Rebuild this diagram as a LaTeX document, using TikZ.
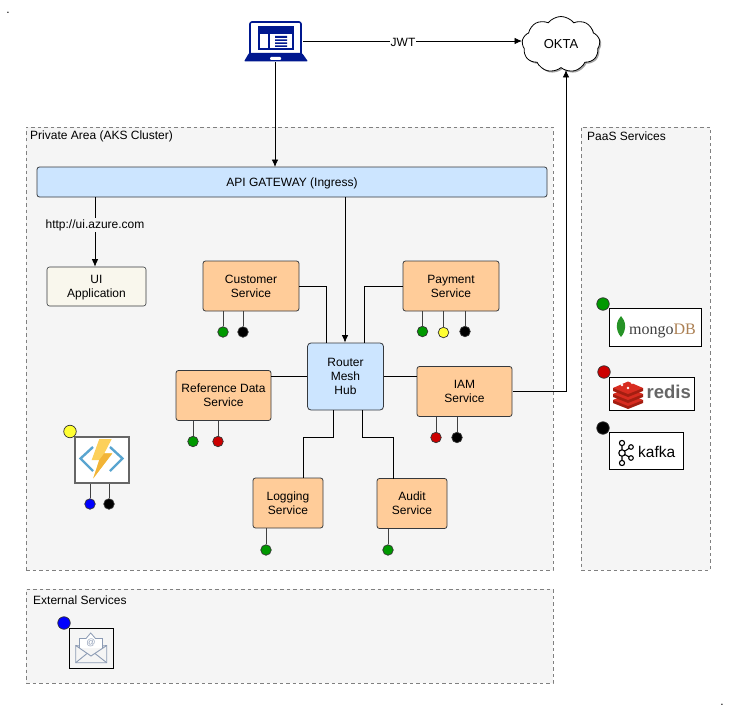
\documentclass[tikz,border=0pt]{standalone}
\usepackage{fontspec}
\setmainfont{Liberation Sans}
\newfontfamily\logoserif{Liberation Serif}
\usetikzlibrary{arrows.meta,shapes.symbols,shadows}

\definecolor{areabg}{HTML}{F5F5F5}
\definecolor{arealine}{HTML}{808080}
\definecolor{svcfill}{HTML}{FFCC99}
\definecolor{hubfill}{HTML}{CCE5FF}
\definecolor{uifill}{HTML}{F9F7ED}
\definecolor{boxline}{HTML}{36393D}
\definecolor{navy}{HTML}{00188F}
\definecolor{dotgreen}{HTML}{009900}
\definecolor{dotred}{HTML}{CC0000}
\definecolor{dotyellow}{HTML}{FFFF33}
\definecolor{dotblue}{HTML}{0000FF}
\definecolor{mailgray}{HTML}{8C9BB4}
\definecolor{boltyellow}{HTML}{FCD05A}
\definecolor{boltdark}{HTML}{F2B437}
\definecolor{chevron}{HTML}{59A5D0}
\definecolor{redisdark}{HTML}{A41E11}
\definecolor{redislight}{HTML}{D82C20}

\tikzset{
  base/.style={font=\fontsize{12}{14}\selectfont, align=center, inner sep=0pt},
  area/.style={draw=arealine, fill=areabg, dash pattern=on 3.5pt off 3pt, line width=0.7pt, inner sep=0pt},
  service/.style={base, draw=boxline, fill=svcfill, rounded corners=2.5pt, line width=0.8pt, text depth=-1pt},
  hub/.style={base, draw=boxline, fill=hubfill, rounded corners=3.5pt, line width=0.8pt, text depth=-2pt},
  logobox/.style={draw=black, fill=white, line width=0.8pt, inner sep=0pt,
    general shadow={shadow xshift=1pt, shadow yshift=-1pt, fill=black!45}},
  dot/.style={circle, draw=black!80, fill=#1, minimum size=10.5pt, inner sep=0pt, line width=0.7pt},
  bigdot/.style={dot=#1, minimum size=12.5pt},
  link/.style={draw, line width=0.8pt},
  arrowlink/.style={link, -{Latex[length=7.5pt,width=6.5pt]}},
  stem/.style={draw=black!75, line width=0.8pt},
  label/.style={base, anchor=west},
  linklabel/.style={base, inner xsep=1pt, inner ysep=1pt},
}

\begin{document}
\begin{tikzpicture}[x=1pt,y=-1pt]
\useasboundingbox (0,0) rectangle (732,717);

% areas
\node[area, minimum width=527pt, minimum height=443pt] (private) at (289.5,348.5) {};
\node[area, minimum width=129pt, minimum height=443pt] (paas) at (645.5,348.5) {};
\node[area, minimum width=527pt, minimum height=94pt] (external) at (289.5,636) {};
\node[label] (privatetxt) at (30,136.5) {Private Area (AKS Cluster)};
\node[label] (paastxt) at (587,136.5) {PaaS Services};
\node[label] (externaltxt) at (33,600) {External Services};
\node[base] (marka) at (8,13) {.};
\node[base] (markb) at (722,705) {.};

% main boxes
\node[hub, minimum width=510pt, minimum height=30pt, rounded corners=2.5pt] (gateway) at (292,182) {API GATEWAY (Ingress)};
\node[base, draw=boxline, fill=uifill, rounded corners=2.5pt, line width=0.6pt, minimum width=99pt, minimum height=39pt, text depth=-4pt] (ui) at (96.5,286.5) {UI\\Application};
\node[service, minimum width=96pt, minimum height=50pt] (customer) at (251,286) {Customer\\Service};
\node[service, minimum width=96pt, minimum height=50pt] (payment) at (451,286) {Payment\\Service};
\node[hub, minimum width=76pt, minimum height=67pt] (router) at (345.5,376.5) {Router\\Mesh\\Hub};
\node[service, minimum width=95pt, minimum height=50pt, text depth=-2pt] (refdata) at (223.5,395.5) {Reference Data\\Service};
\node[service, minimum width=95pt, minimum height=50pt, text depth=-2pt] (iam) at (464.5,391.5) {IAM\\Service};
\node[service, minimum width=70pt, minimum height=50pt, text depth=-4pt] (logging) at (288,503) {Logging\\Service};
\node[service, minimum width=70pt, minimum height=50pt, text depth=-4pt] (audit) at (412,503.5) {Audit\\Service};

% laptop
\node[minimum width=64pt, minimum height=42pt, inner sep=0pt] (laptop) at (276,41) {};
\draw[navy, fill=white, line width=1.6pt, rounded corners=2pt] (250,54) -- (250,22) -- (301,22) -- (301,54);
\fill[navy] (258,26) rectangle (294,50);
\fill[white] (260,34) rectangle (268,48.5);
\fill[white] (270,34) rectangle (292,48.5);
\fill[navy] (275,36) rectangle (287,38) (275,39.5) rectangle (287,41) (275,42.5) rectangle (287,44) (275,45.5) rectangle (287,47);
\fill[navy, rounded corners=1pt] (249,53) -- (302,53) -- (308,61.5) -- (244,61.5) -- cycle;
\fill[white, rounded corners=1pt] (270,57) rectangle (281,60);

% cloud
\node[cloud, cloud puffs=9, cloud puff arc=105, aspect=1.45, minimum width=78pt, minimum height=56pt,
  draw=black, fill=white, line width=0.8pt, base, general shadow={shadow xshift=1.5pt, shadow yshift=-1.5pt, fill=black!35}] (okta) at (561,44.5) {\fontsize{13}{15}\selectfont OKTA};

% connectors
\coordinate (jwtin) at (522,41);
\coordinate (hubin) at (345,197);
\coordinate (uiout) at (95,197);
\coordinate (laptopout) at (303,41);
\coordinate (laptopdown) at (275,62);
\coordinate (gatewayin) at (275,167);
\coordinate (oktain) at (566,70);
\coordinate (iamout) at (512.5,391.5);
\coordinate (custhub) at (326,343);
\coordinate (payhub) at (364,343);
\coordinate (logout) at (333,410);
\coordinate (audout) at (362,410);
\coordinate (logturn) at (303,437);
\coordinate (audturn) at (393,437);
\coordinate (login) at (303,478);
\coordinate (audin) at (393,479);

\path[arrowlink] (laptopout) -- (jwtin);
\path[arrowlink] (laptopdown) -- (gatewayin);
\path[arrowlink] (hubin) -- (router.north -| hubin);
\path[arrowlink] (uiout) -- (ui.north -| uiout);
\path[arrowlink] (iamout) -| (oktain);
\path[link] (customer.east) -| (custhub);
\path[link] (payment.west) -| (payhub);
\path[link] (refdata.east |- router) -- (router.west);
\path[link] (router.east) -- (iam.west |- router);
\path[link] (logout) |- (logturn) -- (login);
\path[link] (audout) |- (audturn) -- (audin);

\node[linklabel, fill=white] (jwt) at (403,42) {JWT};
\node[linklabel, fill=areabg] (uiurl) at (95,225) {http://ui.azure.com};

% service dots
\node[dot=dotgreen] (custa) at (223,332) {};
\node[dot=black] (custb) at (243,332) {};
\node[dot=dotgreen] (paya) at (422.5,331.5) {};
\node[dot=dotyellow] (payb) at (443.5,332.5) {};
\node[dot=black] (payc) at (465,331.5) {};
\node[dot=dotgreen] (refa) at (193,441.5) {};
\node[dot=dotred] (refb) at (218,441.5) {};
\node[dot=dotred] (iama) at (436,437.5) {};
\node[dot=black] (iamb) at (457,437.5) {};
\node[dot=dotgreen] (loga) at (266,550) {};
\node[dot=dotgreen] (auda) at (388,550) {};

\path[stem] (custa) -- (custa |- customer.south);
\path[stem] (custb) -- (custb |- customer.south);
\path[stem] (paya) -- (paya |- payment.south);
\path[stem] (payb) -- (payb |- payment.south);
\path[stem] (payc) -- (payc |- payment.south);
\path[stem] (refa) -- (refa |- refdata.south);
\path[stem] (refb) -- (refb |- refdata.south);
\path[stem] (iama) -- (iama |- iam.south);
\path[stem] (iamb) -- (iamb |- iam.south);
\path[stem] (loga) -- (loga |- logging.south);
\path[stem] (auda) -- (auda |- audit.south);

% function icon
\node[draw=black!60, fill=white, line width=1.2pt, inner sep=0pt, minimum width=54pt, minimum height=46pt] (function) at (102,460) {};
\draw[chevron, line width=2.4pt] (93,447) -- (80.5,458.5) -- (93,471);
\draw[chevron, line width=2.4pt] (110,447) -- (122.5,458.5) -- (110,471);
\fill[boltyellow] (99.3,439) -- (111.7,439) -- (104.3,453.3) -- (112.3,453.3) -- (93.3,478.3) -- (99.3,460) -- (91.7,460) -- cycle;
\fill[boltdark] (104.3,453.3) -- (112.3,453.3) -- (93.3,478.3) -- (99.3,460) -- cycle;
\node[bigdot=dotyellow] (funcdot) at (70,431.5) {};
\node[dot=dotblue] (funca) at (90,504) {};
\node[dot=black] (funcb) at (109,504) {};
\path[stem] (funca) -- (funca |- function.south);
\path[stem] (funcb) -- (funcb |- function.south);

% mail icon
\node[logobox, minimum width=44pt, minimum height=40pt, fill=areabg, general shadow={shadow xshift=1pt, shadow yshift=-1pt, fill=black!20}] (mail) at (91,648) {};
\draw[mailgray, line width=0.8pt, fill=white] (79.5,648) -- (79.5,638.5) -- (86,638.5) -- (90.7,633) -- (95.5,638.5) -- (102.5,638.5) -- (102.5,648);
\draw[mailgray, line width=0.9pt] (79.5,646) -- (75.7,645.5) -- (75.7,662.7) -- (106.7,662.7) -- (106.7,645.5) -- (102.5,646);
\draw[mailgray, line width=0.9pt] (75.7,645.5) -- (91,656) -- (106.7,645.5);
\draw[mailgray, line width=0.9pt] (75.7,662.7) -- (87,653.5) (106.7,662.7) -- (95,653.5);
\node[base, text=mailgray, font=\fontsize{9}{10}\selectfont] (mailat) at (91,643) {@};
\node[bigdot=dotblue] (maildot) at (64,623) {};

% mongo
\node[logobox, minimum width=92pt, minimum height=38pt] (mongo) at (655,327) {};
\fill[green!50!black!85] (621,316) .. controls (616,321) and (615,330) .. (621,337) .. controls (627,330) and (626,321) .. (621,316) -- cycle;
\node[base, anchor=base west, font=\logoserif\fontsize{16}{18}\selectfont, text=black!75] (mongotxt) at (629,334) {mongo\textcolor{brown!70!gray}{DB}};
\node[bigdot=dotgreen] (mongodot) at (603,304) {};

% redis
\node[logobox, minimum width=85pt, minimum height=33pt] (redis) at (651.5,393.5) {};
\foreach \ly in {400,394,388}{
  \fill[redisdark] (613,\ly) -- (613,\ly+3) -- (628,\ly+9) -- (643,\ly+3) -- (643,\ly) -- cycle;
  \fill[redislight] (613,\ly) -- (628,\ly-6.5) -- (643,\ly) -- (628,\ly+6) -- cycle;
}
\fill[white] (622,385) circle (1.3) (632,383) circle (1.2) (628,388) circle (1.3);
\node[base, anchor=base west, font=\bfseries\fontsize{18.5}{20}\selectfont, text=black!60] (redistxt) at (646.5,398) {redis};
\node[bigdot=dotred] (redisdot) at (604,372) {};

% kafka
\node[logobox, minimum width=74pt, minimum height=37pt] (kafka) at (646,450.5) {};
\draw[black, line width=1.1pt] (622,443) -- (622,463) (622,453) -- (631,447) (622,453) -- (631,458);
\draw[black, line width=1.1pt, fill=white] (622,443) circle (2.6) (622,453) circle (3.2) (622,463) circle (2.6) (631,447) circle (2.3) (631,458) circle (2.3);
\node[base, anchor=base west, font=\fontsize{15.5}{17}\selectfont] (kafkatxt) at (638,457) {kafka};
\node[bigdot=black] (kafkadot) at (603,428) {};
\end{tikzpicture}
\end{document}
